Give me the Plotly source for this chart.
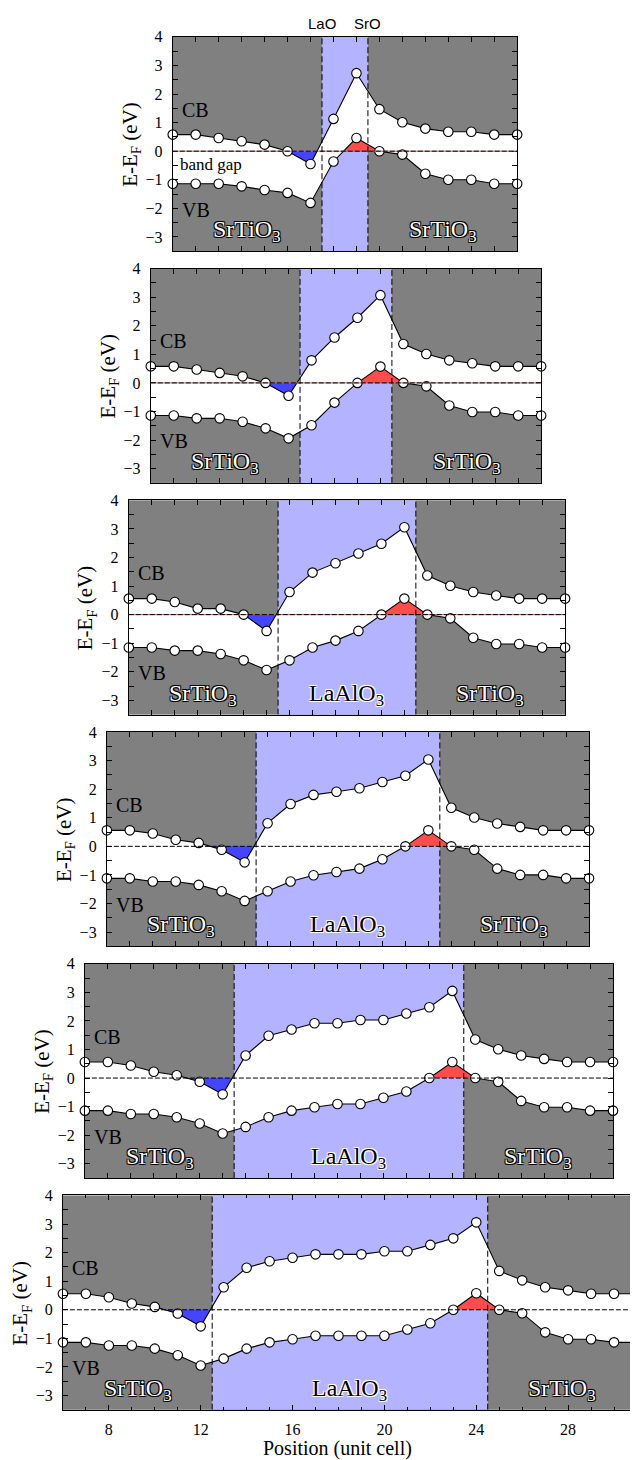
import numpy as np
import plotly.graph_objects as go

# ---------------- data ----------------
n_lao = [2, 4, 6, 8, 10, 12]          # LaAlO3 unit cells in each panel
x_first = 6                            # position of first unit cell shown

cb_1 = [0.58, 0.58, 0.46, 0.35, 0.23, 0.0, -0.45, 1.13, 2.73, 1.47, 1.01, 0.79, 0.68, 0.68, 0.58, 0.58]
vb_1 = [-1.14, -1.14, -1.14, -1.23, -1.36, -1.46, -1.81, -0.36, 0.46, 0.0, -0.12, -0.79, -1.0, -1.0, -1.14, -1.14]
cb_2 = [0.58, 0.58, 0.47, 0.35, 0.23, 0.0, -0.45, 0.79, 1.59, 2.28, 3.07, 1.36, 1.01, 0.79, 0.69, 0.58, 0.58, 0.58]
vb_2 = [-1.14, -1.14, -1.24, -1.24, -1.36, -1.59, -1.94, -1.48, -0.69, 0.0, 0.57, 0.0, -0.12, -0.79, -1.02, -1.02, -1.14, -1.14]
cb_3 = [0.56, 0.56, 0.44, 0.21, 0.21, 0.0, -0.57, 0.79, 1.47, 1.80, 2.14, 2.48, 3.06, 1.37, 1.01, 0.79, 0.67, 0.56, 0.56, 0.56]
vb_3 = [-1.15, -1.15, -1.26, -1.26, -1.38, -1.60, -1.94, -1.60, -1.15, -0.91, -0.57, 0.0, 0.56, 0.0, -0.13, -0.81, -1.03, -1.03, -1.15, -1.15]
cb_4 = [0.56, 0.56, 0.45, 0.23, 0.12, -0.12, -0.56, 0.81, 1.48, 1.80, 1.91, 2.03, 2.25, 2.47, 3.04, 1.35, 1.01, 0.80, 0.68, 0.56, 0.56, 0.56]
vb_4 = [-1.12, -1.12, -1.23, -1.23, -1.35, -1.57, -1.91, -1.57, -1.23, -1.01, -0.90, -0.78, -0.45, 0.0, 0.56, 0.0, -0.12, -0.78, -1.0, -1.0, -1.12, -1.12]
cb_5 = [0.56, 0.56, 0.44, 0.22, 0.10, -0.13, -0.57, 0.79, 1.48, 1.70, 1.92, 1.92, 2.03, 2.03, 2.26, 2.48, 3.05, 1.35, 1.01, 0.79, 0.67, 0.56, 0.56, 0.56]
vb_5 = [-1.14, -1.14, -1.26, -1.26, -1.37, -1.59, -1.94, -1.71, -1.37, -1.14, -1.02, -0.91, -0.91, -0.69, -0.47, 0.0, 0.56, 0.0, -0.13, -0.80, -1.02, -1.02, -1.14, -1.14]
cb_6 = [0.56, 0.56, 0.44, 0.22, 0.10, -0.13, -0.58, 0.79, 1.47, 1.70, 1.82, 1.94, 1.94, 1.94, 2.05, 2.05, 2.27, 2.50, 3.06, 1.36, 1.03, 0.79, 0.68, 0.56, 0.56, 0.56]
vb_6 = [-1.14, -1.14, -1.25, -1.25, -1.36, -1.59, -1.95, -1.71, -1.36, -1.14, -1.03, -0.91, -0.91, -0.91, -0.91, -0.69, -0.47, 0.0, 0.58, 0.0, -0.12, -0.79, -1.03, -1.03, -1.14, -1.14]

cb_all = [cb_1, cb_2, cb_3, cb_4, cb_5, cb_6]
vb_all = [vb_1, vb_2, vb_3, vb_4, vb_5, vb_6]
n_sto_left = 7
x_ticks_bottom = [8, 12, 16, 20, 24, 28]
y_range = [-3.5, 4]

# ---------------- style / layout ----------------
PAGE_W, PAGE_H = 638, 1460
OFF = 8                        # default body margin of the html page
W, H = PAGE_W - OFF, PAGE_H - OFF
SERIF = "Liberation Serif, Times New Roman, DejaVu Serif, serif"
SANS = "Liberation Sans, Arial, sans-serif"
GRAY = "#808080"
LAO = "#b3b3ff"
BLUE = "#4545ff"
RED = "#ff4d4d"
PX_UNIT = 23.0
PANEL_H = 215.5


def px_x(p):  # page pixel -> paper fraction
    return (p - OFF) / W


def px_y(p):
    return 1 - (p - OFF) / H


def clipped_region(x, y, side):
    """Curve clipped to y<=0 (side=-1) or y>=0 (side=+1), with crossing points."""
    xs, ys = [], []
    for i in range(len(x)):
        if i > 0:
            y0, y1 = y[i - 1], y[i]
            if (y0 * side > 0 and y1 * side < 0) or (y0 * side < 0 and y1 * side > 0):
                t = y0 / (y0 - y1)
                xs.append(x[i - 1] + t * (x[i] - x[i - 1]))
                ys.append(0.0)
        xs.append(x[i])
        ys.append(min(y[i], 0.0) if side < 0 else max(y[i], 0.0))
    return xs, ys


fig = go.Figure()
shapes = []
annotations = []
layout_axes = {}

for k in range(6):
    cb = np.array(cb_all[k])
    vb = np.array(vb_all[k])
    N = len(cb)
    x = x_first + np.arange(N)
    xmin, xmax = float(x[0]), float(x[-1])
    i_left = x_first + n_sto_left - 0.5
    i_right = i_left + n_lao[k]

    top = 29 + 233 * k
    bottom = top + PANEL_H
    right = min(518 + 24 * k, PAGE_W)
    left = right - (xmax - xmin) * PX_UNIT

    xa = "x" if k == 0 else f"x{k+1}"
    ya = "y" if k == 0 else f"y{k+1}"
    xkey = "xaxis" if k == 0 else f"xaxis{k+1}"
    ykey = "yaxis" if k == 0 else f"yaxis{k+1}"

    last = (k == 5)
    layout_axes[xkey] = dict(
        domain=[px_x(left), min(px_x(right), 1.0)], anchor=ya, range=[xmin, xmax],
        showline=True, linecolor="black", linewidth=1, mirror="allticks",
        ticks="inside", ticklen=5, tickcolor="black",
        showgrid=False, zeroline=False,
        tickmode="array" if last else "linear",
        tickvals=x_ticks_bottom if last else None,
        dtick=None if last else 1, tick0=0,
        showticklabels=last,
        tickfont=dict(family=SERIF, size=16, color="black"),
        ticklabelstandoff=5,
        minor=dict(dtick=1, tick0=0, ticks="inside", ticklen=3, tickcolor="black") if last else None,
    )
    layout_axes[ykey] = dict(
        domain=[px_y(bottom), px_y(top)], anchor=xa, range=y_range,
        showline=True, linecolor="black", linewidth=1, mirror="allticks",
        ticks="inside", ticklen=5, tickcolor="black", dtick=1, tick0=0,
        minor=dict(dtick=0.5, tick0=0, ticks="inside", ticklen=5, tickcolor="black"),
        showgrid=False, zeroline=False,
        tickfont=dict(family=SERIF, size=16, color="black"),
        ticklabelstandoff=6,
    )

    # LaAlO3 region background
    shapes.append(dict(type="rect", xref=xa, yref=ya, x0=i_left, x1=i_right,
                       y0=y_range[0], y1=y_range[1], fillcolor=LAO,
                       line=dict(width=0), layer="below"))

    # white band gap between VB and CB
    fig.add_trace(go.Scatter(x=x, y=vb, mode="lines", line=dict(width=0),
                             xaxis=xa, yaxis=ya, showlegend=False, hoverinfo="skip"))
    fig.add_trace(go.Scatter(x=x, y=cb, mode="lines", line=dict(width=0),
                             fill="tonexty", fillcolor="white",
                             xaxis=xa, yaxis=ya, showlegend=False, hoverinfo="skip"))
    # electron pocket (CB below E_F) and hole pocket (VB above E_F)
    bx, by = clipped_region(list(x), list(cb), -1)
    fig.add_trace(go.Scatter(x=bx, y=by, mode="lines", line=dict(width=0),
                             fill="toself", fillcolor=BLUE,
                             xaxis=xa, yaxis=ya, showlegend=False, hoverinfo="skip"))
    rx, ry = clipped_region(list(x), list(vb), +1)
    fig.add_trace(go.Scatter(x=rx, y=ry, mode="lines", line=dict(width=0),
                             fill="toself", fillcolor=RED,
                             xaxis=xa, yaxis=ya, showlegend=False, hoverinfo="skip"))
    # band edges
    for arr in (cb, vb):
        fig.add_trace(go.Scatter(
            x=x, y=arr, mode="lines+markers",
            line=dict(color="black", width=1.1),
            marker=dict(symbol="circle", size=9.5, color="white",
                        line=dict(color="black", width=1.1)),
            cliponaxis=False, xaxis=xa, yaxis=ya, showlegend=False))

    # Fermi level line
    if k < 3:
        shapes.append(dict(type="line", xref=xa, yref=ya, x0=xmin, x1=xmax, y0=0, y1=0,
                           line=dict(color="#d06060", width=1), layer="above"))
    shapes.append(dict(type="line", xref=xa, yref=ya, x0=xmin, x1=xmax, y0=0, y1=0,
                       line=dict(color="black", width=1, dash="5px,2px"), layer="above"))
    # interfaces
    for xi in (i_left, i_right):
        shapes.append(dict(type="line", xref=xa, yref=ya, x0=xi, x1=xi,
                           y0=y_range[0], y1=y_range[1],
                           line=dict(color="black", width=1, dash="6px,3px"), layer="above"))

    # labels
    annotations.append(dict(text="CB", xref=xa, yref=ya, x=xmin + 0.3, y=1.45,
                            xanchor="left", yanchor="middle", showarrow=False,
                            font=dict(family=SERIF, size=20, color="black")))
    annotations.append(dict(text="VB", xref=xa, yref=ya, x=xmin + 0.3, y=-2.05,
                            xanchor="left", yanchor="middle", showarrow=False,
                            font=dict(family=SERIF, size=20, color="black")))
    sto_shadow = "-1px -1px 0 #000, 1px -1px 0 #000, -1px 1px 0 #000, 1px 1px 0 #000"
    lao_shadow = "-1px -1px 0 #fff, 1px -1px 0 #fff, -1px 1px 0 #fff, 1px 1px 0 #fff"
    for cx in ((xmin + i_left) / 2, (i_right + xmax) / 2):
        annotations.append(dict(text="SrTiO<sub>3</sub>", xref=xa, yref=ya, x=cx, y=-2.8,
                                xanchor="center", yanchor="middle", showarrow=False,
                                font=dict(family=SERIF, size=24, color="white", shadow=sto_shadow)))
    if n_lao[k] >= 6:
        annotations.append(dict(text="LaAlO<sub>3</sub>", xref=xa, yref=ya,
                                x=(i_left + i_right) / 2, y=-2.8,
                                xanchor="center", yanchor="middle", showarrow=False,
                                font=dict(family=SERIF, size=24, color="black", shadow=lao_shadow)))
    if k == 0:
        annotations.append(dict(text="band gap", xref=xa, yref=ya, x=xmin + 0.25, y=-0.47,
                                xanchor="left", yanchor="middle", showarrow=False,
                                font=dict(family=SERIF, size=17, color="black")))
        for xi, lab in ((i_left, "LaO"), (i_right, "SrO")):
            annotations.append(dict(text=lab, xref=xa, yref="paper", x=xi, y=px_y(16),
                                    xanchor="center", yanchor="middle", showarrow=False,
                                    font=dict(family=SANS, size=15, color="black")))
    # y-axis title
    annotations.append(dict(text="E-E<sub>F</sub> (eV)", xref="paper", yref="paper",
                            x=px_x(left - 42), y=px_y(top + PANEL_H / 2),
                            xanchor="center", yanchor="middle", textangle=-90, showarrow=False,
                            font=dict(family=SERIF, size=21, color="black")))
    if last:
        annotations.append(dict(text="Position (unit cell)", xref="paper", yref="paper",
                                x=px_x((left + right) / 2 - 12), y=px_y(1448),
                                xanchor="center", yanchor="middle", showarrow=False,
                                font=dict(family=SERIF, size=20, color="black")))

fig.update_layout(
    width=W, height=H,
    margin=dict(l=0, r=0, t=0, b=0),
    paper_bgcolor="white", plot_bgcolor=GRAY,
    shapes=shapes, annotations=annotations,
    showlegend=False,
    **layout_axes,
)

fig.write_html("out.html")
